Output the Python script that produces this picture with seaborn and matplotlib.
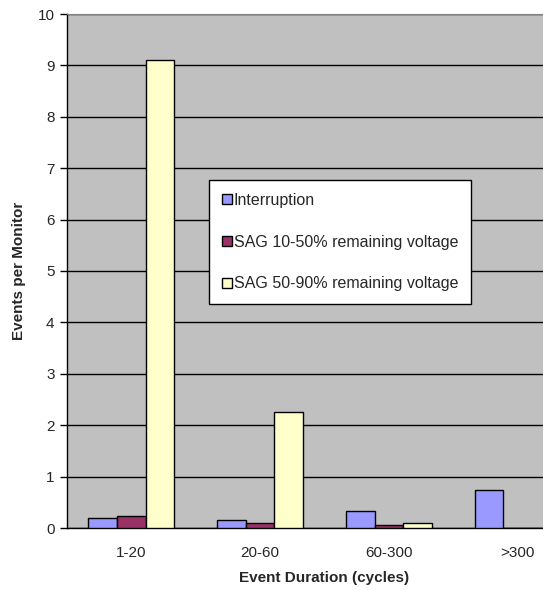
import pandas as pd
import matplotlib
matplotlib.use("Agg")
import matplotlib.pyplot as plt
import seaborn as sns

# ---------- DATA ----------
durations = ["1-20", "20-60", "60-300", ">300"]
series = ["Interruption", "SAG 10-50% remaining voltage", "SAG 50-90% remaining voltage"]
interruption = [0.20, 0.15, 0.33, 0.74]
sag_10_50 = [0.23, 0.10, 0.05, 0.0]
sag_50_90 = [9.10, 2.26, 0.10, 0.0]
colors = ["#9999FF", "#993366", "#FFFFCC"]

rows = []
for name, vals in zip(series, [interruption, sag_10_50, sag_50_90]):
    for d, v in zip(durations, vals):
        rows.append({"Duration": d, "Series": name, "Events": v})
df = pd.DataFrame(rows)

# ---------- STYLE ----------
sns.set_style("white")
plt.rcParams["font.family"] = ["Liberation Sans", "DejaVu Sans"]
FS = 11.5

fig = plt.figure(figsize=(5.43, 5.90), dpi=100)
ax = fig.add_axes([67 / 543, 62 / 590, 515 / 543, 514 / 590])
ax.set_facecolor("#C0C0C0")

sns.barplot(data=df, x="Duration", y="Events", hue="Series", palette=colors,
            saturation=1, width=0.667, edgecolor="black", linewidth=1, ax=ax, zorder=3)

# ---------- AXES ----------
ax.set_ylim(0, 10)
ax.set_xlim(-0.5, 3.5)
ax.set_yticks(range(11))
ax.yaxis.grid(True, color="black", linewidth=1, zorder=0)
ax.set_axisbelow(True)
ax.set_xticks([-0.5, 0.5, 1.5, 2.5, 3.5], minor=True)
ax.tick_params(axis="x", which="major", length=0, labelsize=11, pad=13)
ax.tick_params(axis="x", which="minor", length=5, width=1, color="black", direction="out")
ax.tick_params(axis="y", length=5, width=1, color="black", direction="out", labelsize=11,
               left=True, pad=4)

for side in ["left", "bottom"]:
    ax.spines[side].set_color("black")
    ax.spines[side].set_linewidth(1)
ax.spines["top"].set_color("#808080")
ax.spines["right"].set_visible(False)

ax.set_xlabel("Event Duration (cycles)", fontsize=11, fontweight="bold", labelpad=8)
ax.set_ylabel("Events per Monitor", fontsize=11, fontweight="bold", labelpad=8)

# ---------- LEGEND ----------
leg = ax.legend(loc="upper left", bbox_to_anchor=(209 / 543, 1 - 180 / 590),
                bbox_transform=fig.transFigure, frameon=True, fancybox=False,
                edgecolor="black", framealpha=1, fontsize=FS,
                handlelength=0.65, handleheight=0.65, handletextpad=0.1,
                labelspacing=1.68, borderpad=0.8, borderaxespad=0)
leg.get_frame().set_linewidth(1)

fig.savefig("out.png", dpi=100)
